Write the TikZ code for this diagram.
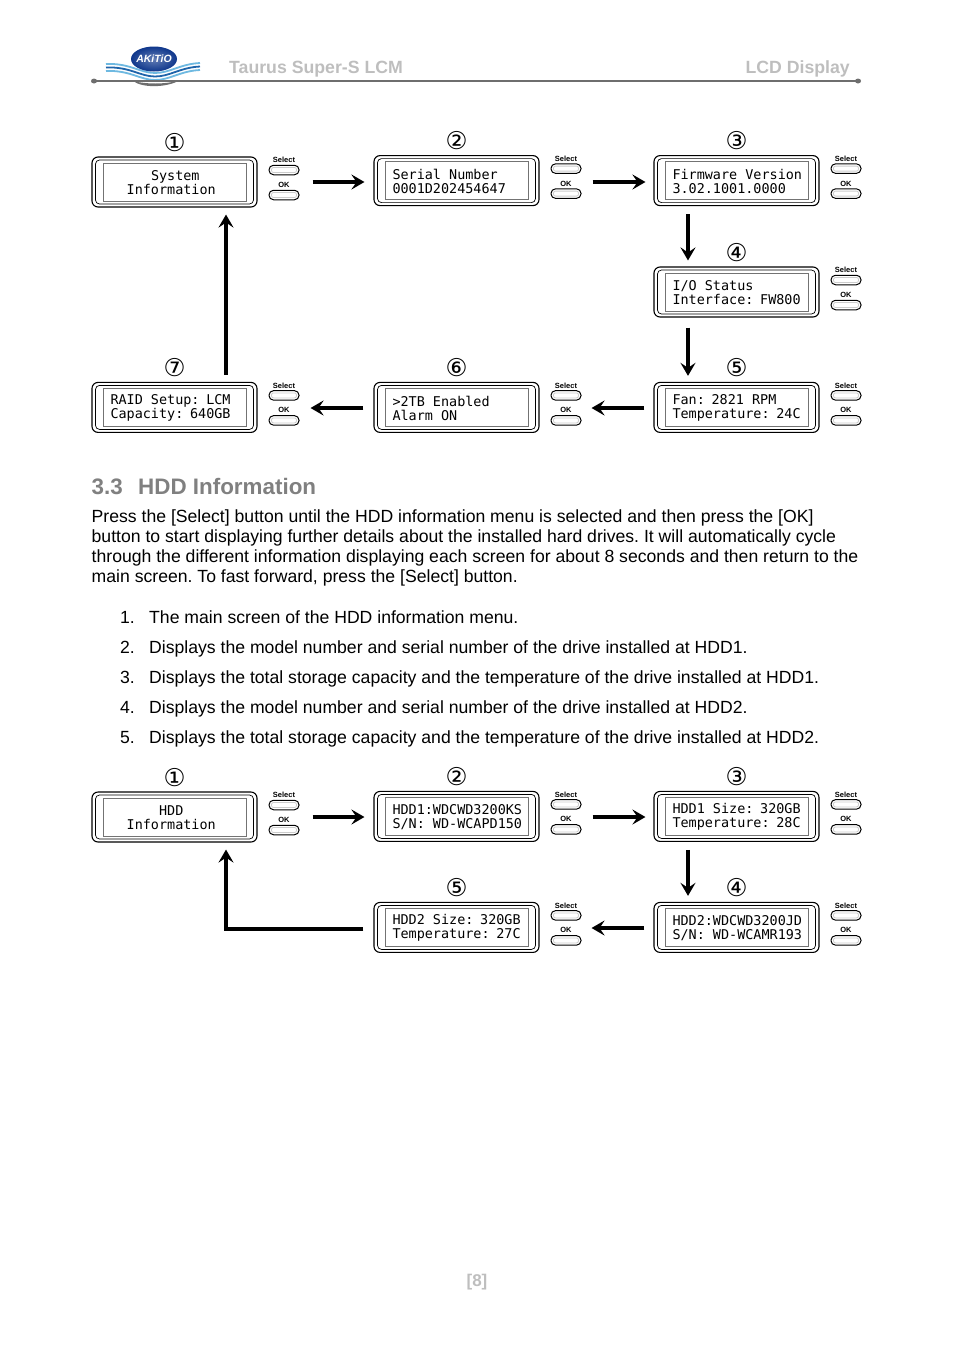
\documentclass[tikz,border=0pt]{standalone}
\usepackage{fontspec}
\setmainfont{Liberation Sans}
\newfontfamily\lcdfont{DejaVu Sans Mono}
\newfontfamily\markfont{DejaVu Sans}
\usetikzlibrary{arrows.meta, calc, positioning}
\definecolor{headgray}{RGB}{190,190,190}
\definecolor{titlegray}{RGB}{128,128,128}
\definecolor{rulegray}{RGB}{110,110,110}
\definecolor{wavelight}{RGB}{110,185,225}
\definecolor{wavedark}{RGB}{30,100,170}
\definecolor{logoblue}{RGB}{15,55,140}
\tikzset{
	panelouter/.style={draw, line width=1.1pt, rounded corners=6pt, minimum width=165pt, minimum height=50pt, inner sep=0pt},
	panelring/.style={draw, line width=.7pt, rounded corners=4pt, minimum width=158pt, minimum height=44pt},
	panelinner/.style={draw=black!55, line width=.8pt, minimum width=143pt, minimum height=38pt, inner sep=0pt},
	paneltext/.style={inner sep=0pt, text width=130.5pt, align=left, font=\lcdfont\fontsize{13.45}{14}\selectfont},
	pill/.style={draw, line width=1pt, rounded corners=4.5pt, minimum width=30pt, minimum height=9.5pt, inner sep=0pt},
	pillshade/.style={draw=black!20, line width=.8pt, rounded corners=2pt, minimum width=25pt, minimum height=5pt, inner sep=0pt},
	keylabel/.style={font=\bfseries\fontsize{7.5}{8}\selectfont, inner sep=0pt},
	stepmark/.style={font=\markfont\fontsize{24.5}{24}\selectfont, inner sep=0pt},
	flow/.style={line width=3.8pt, -{Stealth[length=13pt, width=15pt, inset=5pt]}},
	bodytext/.style={anchor=base west, inner sep=0pt, font=\fontsize{17.62}{20}\selectfont\frenchspacing},
}
% one display with its two keys and its number
\newcommand{\lcdpanel}[5]{
	\node[panelouter] (#1) at (#2,#3) {};
	\node[panelring] (#1ring) at (#2,#3) {};
	\node[panelinner] (#1box) at (#2,#3) {};
	\node[paneltext] (#1text) at (#2+1.25,#3+.7) {\spaceskip=8.1pt\relax #5};
	\node[stepmark] (#1mark) at ($(#2,#3)+(0,-39.9)$) {#4};
	\node[pill] (#1sel) at (#2+109.5,#3-12) {};
	\node[pillshade] (#1selin) at (#2+109.5,#3-12) {};
	\node[pill] (#1ok) at (#2+109.5,#3+13) {};
	\node[pillshade] (#1okin) at (#2+109.5,#3+13) {};
	\node[keylabel] (#1sellabel) at (#2+109.5,#3-22) {Select};
	\node[keylabel] (#1oklabel) at (#2+109.5,#3+3) {OK};
}
\begin{document}
\begin{tikzpicture}[x=1pt, y=-1pt]
	\useasboundingbox (0,0) rectangle (954,1350);
	% header
	\foreach \y/\c in {64/wavelight, 67.5/wavedark, 71/wavelight}{
		\draw[\c, line width=1.8pt] (106,\y) .. controls (130,\y-1) and (140,\y+9) .. (155,\y+9) .. controls (170,\y+9) and (180,\y) .. (200,\y-1);
	}
	\shade[inner color=logoblue!65!white, outer color=logoblue] (154,59) ellipse (23 and 12.5);
	\node[text=white, font=\bfseries\itshape\fontsize{10.5}{10}\selectfont, inner sep=0pt] (logotext) at (154,59) {AKiTiO};
	\fill[rulegray] (133,81) .. controls (145,84) and (165,85) .. (180,80) .. controls (168,87.5) and (143,88.5) .. (133,81);
	\draw[rulegray, line width=1.2pt] (92,81) -- (860,81);
	\fill[rulegray] (94,81) ellipse (3 and 2.5);
	\fill[rulegray] (858,81) ellipse (3 and 2.5);
	\node[anchor=base west, inner sep=0pt, text=headgray, font=\bfseries\fontsize{17.7}{18}\selectfont] (headleft) at (229,73) {Taurus Super-S LCM};
	\node[anchor=base east, inner sep=0pt, text=headgray, font=\bfseries\fontsize{17.7}{18}\selectfont] (headright) at (850,73) {LCD Display};
	% first flow
	\lcdpanel{sysa}{174.5}{182}{①}{\hspace*{40.5pt}System\\\hspace*{16.2pt}Information}
	\lcdpanel{sysb}{456.5}{180.6}{②}{Serial Number\\0001D202454647}
	\lcdpanel{sysc}{736.5}{180.6}{③}{Firmware Version\\3.02.1001.0000}
	\lcdpanel{sysd}{736.5}{292}{④}{I/O Status\\Interface: FW800}
	\lcdpanel{syse}{736.5}{407.4}{⑤}{Fan: 2821 RPM\\Temperature: 24C}
	\lcdpanel{sysf}{456.5}{407.4}{⑥}{>2TB Enabled\\Alarm ON}
	\lcdpanel{sysg}{174.5}{407.4}{⑦}{RAID Setup: LCM\\Capacity: 640GB}
	\draw[flow, shorten <=55pt, shorten >=9pt] (sysa.east) -- (sysa.east -| sysb.west);
	\draw[flow, shorten <=53pt, shorten >=8pt] ([yshift=-1.4pt]sysb.east) -- ([yshift=-1.4pt]sysc.west);
	\draw[flow, shorten <=8pt, shorten >=6pt] ([xshift=-48.5pt]sysc.south) -- ([xshift=-48.5pt]sysd.north);
	\draw[flow, shorten <=10pt, shorten >=6pt] ([xshift=-48.5pt]sysd.south) -- ([xshift=-48.5pt]syse.north);
	\draw[flow, shorten <=9pt, shorten >=52pt] ([yshift=-.6pt]syse.west) -- ([yshift=-.6pt]sysf.east);
	\draw[flow, shorten <=10pt, shorten >=53pt] ([yshift=-.6pt]sysf.west) -- ([yshift=-.6pt]sysg.east);
	\draw[flow, shorten <=7pt, shorten >=7pt] ([xshift=51.5pt]sysg.north) -- ([xshift=51.5pt]sysa.south);
	% text
	\node[anchor=base west, inner sep=0pt, text=titlegray, font=\bfseries\fontsize{22.4}{23}\selectfont] (secnum) at (91.5,494.5) {3.3};
	\node[anchor=base west, inner sep=0pt, text=titlegray, font=\bfseries\fontsize{22.4}{23}\selectfont] (sectitle) at (138,494.5) {HDD Information};
	\foreach \y/\t [count=\i] in {
		522/{Press the [Select] button until the HDD information menu is selected and then press the [OK]},
		542/{button to start displaying further details about the installed hard drives. It will automatically cycle},
		562/{through the different information displaying each screen for about 8 seconds and then return to the},
		582/{main screen. To fast forward, press the [Select] button.}}{
		\node[bodytext] (para\i) at (91.5,\y) {\t};
	}
	\foreach \y/\t [count=\i] in {
		623/{The main screen of the HDD information menu.},
		653/{Displays the model number and serial number of the drive installed at HDD1.},
		683/{Displays the total storage capacity and the temperature of the drive installed at HDD1.},
		713/{Displays the model number and serial number of the drive installed at HDD2.},
		743/{Displays the total storage capacity and the temperature of the drive installed at HDD2.}}{
		\node[bodytext] (num\i) at (120,\y) {\i.};
		\node[bodytext] (item\i) at (149,\y) {\t};
	}
	% second flow
	\lcdpanel{hdda}{174.5}{817}{①}{\hspace*{48.6pt}HDD\\\hspace*{16.2pt}Information}
	\lcdpanel{hddb}{456.5}{816.4}{②}{HDD1:WDCWD3200KS\\S/N: WD-WCAPD150}
	\lcdpanel{hddc}{736.5}{816.4}{③}{HDD1 Size: 320GB\\Temperature: 28C}
	\lcdpanel{hddd}{736.5}{927.4}{④}{HDD2:WDCWD3200JD\\S/N: WD-WCAMR193}
	\lcdpanel{hdde}{456.5}{927.4}{⑤}{HDD2 Size: 320GB\\Temperature: 27C}
	\draw[flow, shorten <=55pt, shorten >=9pt] (hdda.east) -- (hdda.east -| hddb.west);
	\draw[flow, shorten <=53pt, shorten >=8pt] ([yshift=-.6pt]hddb.east) -- ([yshift=-.6pt]hddc.west);
	\draw[flow, shorten <=8pt, shorten >=6pt] ([xshift=-48.5pt]hddc.south) -- ([xshift=-48.5pt]hddd.north);
	\draw[flow, shorten <=9pt, shorten >=52pt] ([yshift=-.6pt]hddd.west) -- ([yshift=-.6pt]hdde.east);
	\draw[flow, shorten <=10pt, shorten >=7pt] ([yshift=-1.6pt]hdde.west) -| ([xshift=51.5pt]hdda.south);
	% footer
	\node[text=headgray, inner sep=0pt, font=\bfseries\fontsize{17}{17}\selectfont] (pagenum) at (477,1282) {[8]};
\end{tikzpicture}
\end{document}
